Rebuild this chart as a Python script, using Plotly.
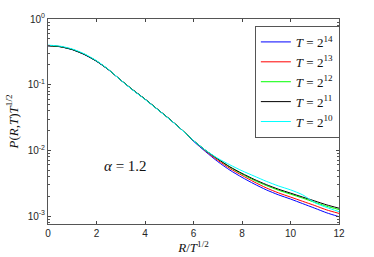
import plotly.graph_objects as go

x = [0, 0.5, 1, 1.5, 2, 2.5, 3, 3.5, 4, 4.5, 5, 5.5, 6, 6.5, 7, 7.5, 8, 8.5, 9, 9.5, 10, 10.5, 11, 11.5, 12]

p_T14 = [0.390, 0.378, 0.341, 0.287, 0.227, 0.168, 0.1175, 0.0832, 0.0603, 0.0427, 0.0302, 0.0209, 0.0138, 0.00955,
         0.00676, 0.00501, 0.00389, 0.00309, 0.00251, 0.00211, 0.00182, 0.00155, 0.00132, 0.00112, 0.00098]
p_T13 = [0.3936, 0.380, 0.344, 0.290, 0.229, 0.169, 0.1175, 0.0832, 0.0603, 0.0427, 0.0302, 0.0209, 0.0141, 0.00977,
         0.00708, 0.00531, 0.00417, 0.00331, 0.00269, 0.00226, 0.00195, 0.00168, 0.00145, 0.00124, 0.00110]
p_T12 = [0.3936, 0.380, 0.344, 0.290, 0.229, 0.169, 0.1175, 0.0832, 0.0603, 0.0427, 0.0302, 0.0209, 0.0141, 0.0100,
         0.00741, 0.00556, 0.00437, 0.00351, 0.00292, 0.00248, 0.00216, 0.00188, 0.00162, 0.00141, 0.00126]
p_T11 = [0.3936, 0.380, 0.344, 0.290, 0.229, 0.169, 0.1175, 0.0832, 0.0603, 0.0427, 0.0302, 0.0209, 0.0141, 0.0100,
         0.00741, 0.00562, 0.00447, 0.00363, 0.00302, 0.00257, 0.00224, 0.00195, 0.00170, 0.00148, 0.00132]
p_T10 = [0.400, 0.386, 0.350, 0.295, 0.232, 0.170, 0.1170, 0.0825, 0.0598, 0.0424, 0.0300, 0.0208, 0.0141, 0.0100,
         0.00759, 0.00603, 0.00490, 0.00407, 0.00339, 0.00288, 0.00251, 0.00211, 0.00160, 0.00135, 0.00117]

series = [
    ("<i>T</i> = 2<sup>14</sup>", p_T14, "#0000ff"),
    ("<i>T</i> = 2<sup>13</sup>", p_T13, "#ff0000"),
    ("<i>T</i> = 2<sup>12</sup>", p_T12, "#00ff00"),
    ("<i>T</i> = 2<sup>11</sup>", p_T11, "#000000"),
    ("<i>T</i> = 2<sup>10</sup>", p_T10, "#00ffff"),
]

ytickvals = [1e-3, 1e-2, 1e-1, 1e0]
yticktext = ["10<sup>-3</sup>", "10<sup>-2</sup>", "10<sup>-1</sup>", "10<sup>0</sup>"]
xtickvals = [0, 2, 4, 6, 8, 10, 12]

fig = go.Figure()
for name, vals, col in series:
    fig.add_trace(go.Scatter(x=x, y=vals, mode="lines", name=name,
                             line=dict(color=col, width=1, shape="spline", smoothing=0.6)))

minor_vals = [m * 10 ** e for e in (-4, -3, -2, -1) for m in range(2, 10)]

axis_col = "#262626"
serif = "Liberation Serif, DejaVu Serif"
fig.update_layout(
    width=374, height=257,
    margin=dict(l=48, r=35, t=19, b=33),
    paper_bgcolor="white", plot_bgcolor="white",
    font=dict(family="Liberation Sans, Arial", size=10, color=axis_col),
    showlegend=True,
    legend=dict(x=1.003, y=0.966, xanchor="right", yanchor="top",
                bordercolor="#555555", borderwidth=1, bgcolor="white",
                font=dict(family=serif, size=13, color="#111111"),
                itemwidth=30, tracegroupgap=0),
    xaxis=dict(range=[0, 12], tickmode="array", tickvals=xtickvals, automargin=False,
               ticks="inside", ticklen=3, showline=True, linecolor="#555555", linewidth=1,
               mirror="ticks", showgrid=False, zeroline=False,
               tickfont=dict(size=10, color=axis_col),
               title=dict(text="<i>R</i>/<i>T</i><sup>1/2</sup>", standoff=4,
                          font=dict(family=serif, size=13, color="#111111"))),
    yaxis=dict(type="log", range=[-3.12, 0], tickmode="array", tickvals=ytickvals, ticktext=yticktext,
               automargin=False,
               ticks="inside", ticklen=3, showline=True, linecolor="#555555", linewidth=1,
               mirror="ticks", showgrid=False, zeroline=False,
               minor=dict(ticks="inside", ticklen=2, tickvals=minor_vals, tickcolor="#555555", showgrid=False),
               tickfont=dict(size=10, color=axis_col),
               title=dict(text="<i>P</i>(<i>R</i>,<i>T</i>)<i>T</i><sup>1/2</sup>", standoff=6,
                          font=dict(family=serif, size=13, color="#111111"))),
)

fig.add_annotation(x=3.2, y=-2.24, xref="x", yref="y", text="<i>α</i> = 1.2", showarrow=False,
                   font=dict(family=serif, size=15, color="#111111"))

fig.write_html("out.html", config={"displayModeBar": False},
               post_script="document.body.style.margin='0';")
